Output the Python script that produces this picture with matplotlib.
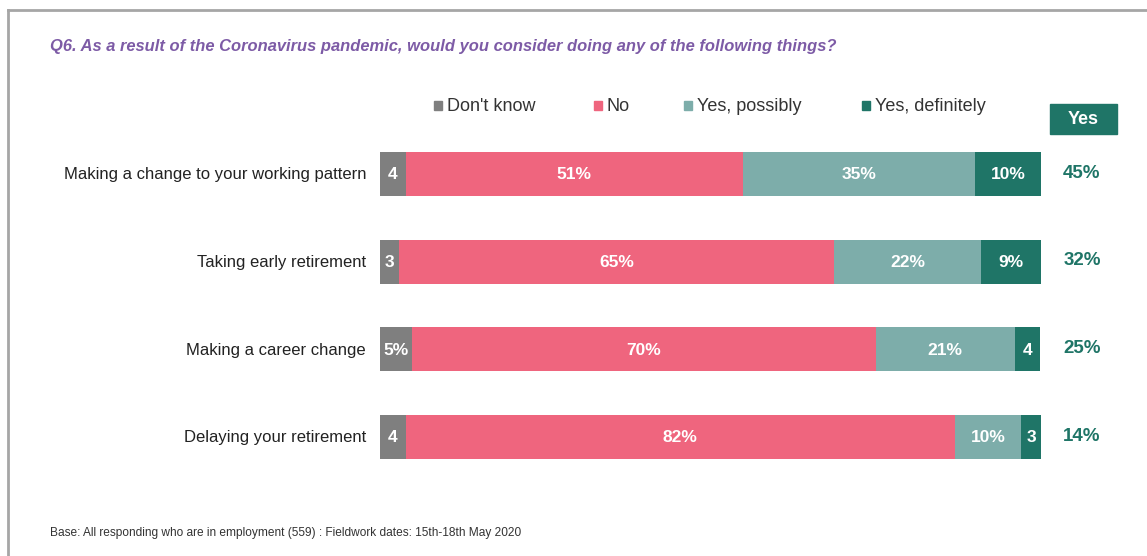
import matplotlib
matplotlib.use("Agg")
import matplotlib.pyplot as plt
from matplotlib.patches import Rectangle
import numpy as np

plt.rcParams['font.family'] = ['Liberation Sans', 'DejaVu Sans']

categories = ["Making a change to your working pattern", "Taking early retirement",
              "Making a career change", "Delaying your retirement"]
series_names = ["Don't know", "No", "Yes, possibly", "Yes, definitely"]
dont_know = [3.9, 2.9, 4.8, 3.9]
no = [51.0, 65.8, 70.2, 83.1]
yes_possibly = [35.1, 22.2, 21.0, 10.0]
yes_definitely = [10.0, 9.1, 3.9, 3.0]
dont_know_labels = ["4", "3", "5%", "4"]
no_labels = ["51%", "65%", "70%", "82%"]
yes_possibly_labels = ["35%", "22%", "21%", "10%"]
yes_definitely_labels = ["10%", "9%", "4", "3"]
yes_totals = ["45%", "32%", "25%", "14%"]

colors = ["#7f7f7f", "#ef657e", "#7dadaa", "#1f7567"]
W, H = 1147, 556
fig = plt.figure(figsize=(W/100, H/100), dpi=100)

# frame
fig.add_artist(plt.Line2D([8/W, 8/W], [0, 1 - 10/H], color="#a6a6a6", lw=2))
fig.add_artist(plt.Line2D([8/W, 1], [1 - 10/H, 1 - 10/H], color="#a6a6a6", lw=2))

ax = fig.add_axes([380/W, 1 - 480.8/H, 661/W, 350.6/H])
ax.set_xlim(0, 100)
ax.set_ylim(3.5, -0.5)
ax.axis("off")

y = np.arange(len(categories))
series = [dont_know, no, yes_possibly, yes_definitely]
labels = [dont_know_labels, no_labels, yes_possibly_labels, yes_definitely_labels]
left = np.zeros(len(categories))
for vals, labs, col in zip(series, labels, colors):
    vals = np.array(vals)
    ax.barh(y, vals, left=left, height=0.5, color=col, edgecolor="none")
    for i in range(len(y)):
        ax.text(left[i] + vals[i] / 2, y[i] + 0.01, labs[i], ha="center", va="center",
                color="white", fontsize=12.5, fontweight="bold")
    left = left + vals

for i, c in enumerate(categories):
    ax.text(-2.1, y[i] + 0.01, c, ha="right", va="center", fontsize=12, color="#222222")
    ax.text(106.2, y[i] - 0.01, yes_totals[i], ha="center", va="center", fontsize=13.5,
            fontweight="bold", color="#1f7567")

# Yes header box
fig.add_artist(Rectangle((1050/W, 1 - 134/H), 67/W, 30/H, transform=fig.transFigure,
                         color="#1f7567"))
fig.text(1083.5/W, 1 - 119.5/H, "Yes", ha="center", va="center", fontsize=13,
         fontweight="bold", color="white")

# legend
leg_x = [438, 598, 688, 866]
for xp, name, col in zip(leg_x, series_names, colors):
    fig.add_artist(Rectangle(((xp - 4)/W, 1 - 109.5/H), 8/W, 8/H, transform=fig.transFigure,
                             color=col))
    fig.text((xp + 9)/W, 1 - 106.5/H, name, ha="left", va="center", fontsize=13,
             color="#333333")

fig.text(50/W, 1 - 46/H,
         "Q6. As a result of the Coronavirus pandemic, would you consider doing any of the following things?",
         ha="left", va="center", fontsize=11.9, fontweight="bold", fontstyle="italic",
         color="#7d5ba6")
fig.text(50/W, 1 - 533/H,
         "Base: All responding who are in employment (559) : Fieldwork dates: 15th-18th May 2020",
         ha="left", va="center", fontsize=8.6, color="#333333")

fig.savefig("out.png", dpi=100, facecolor="white")
